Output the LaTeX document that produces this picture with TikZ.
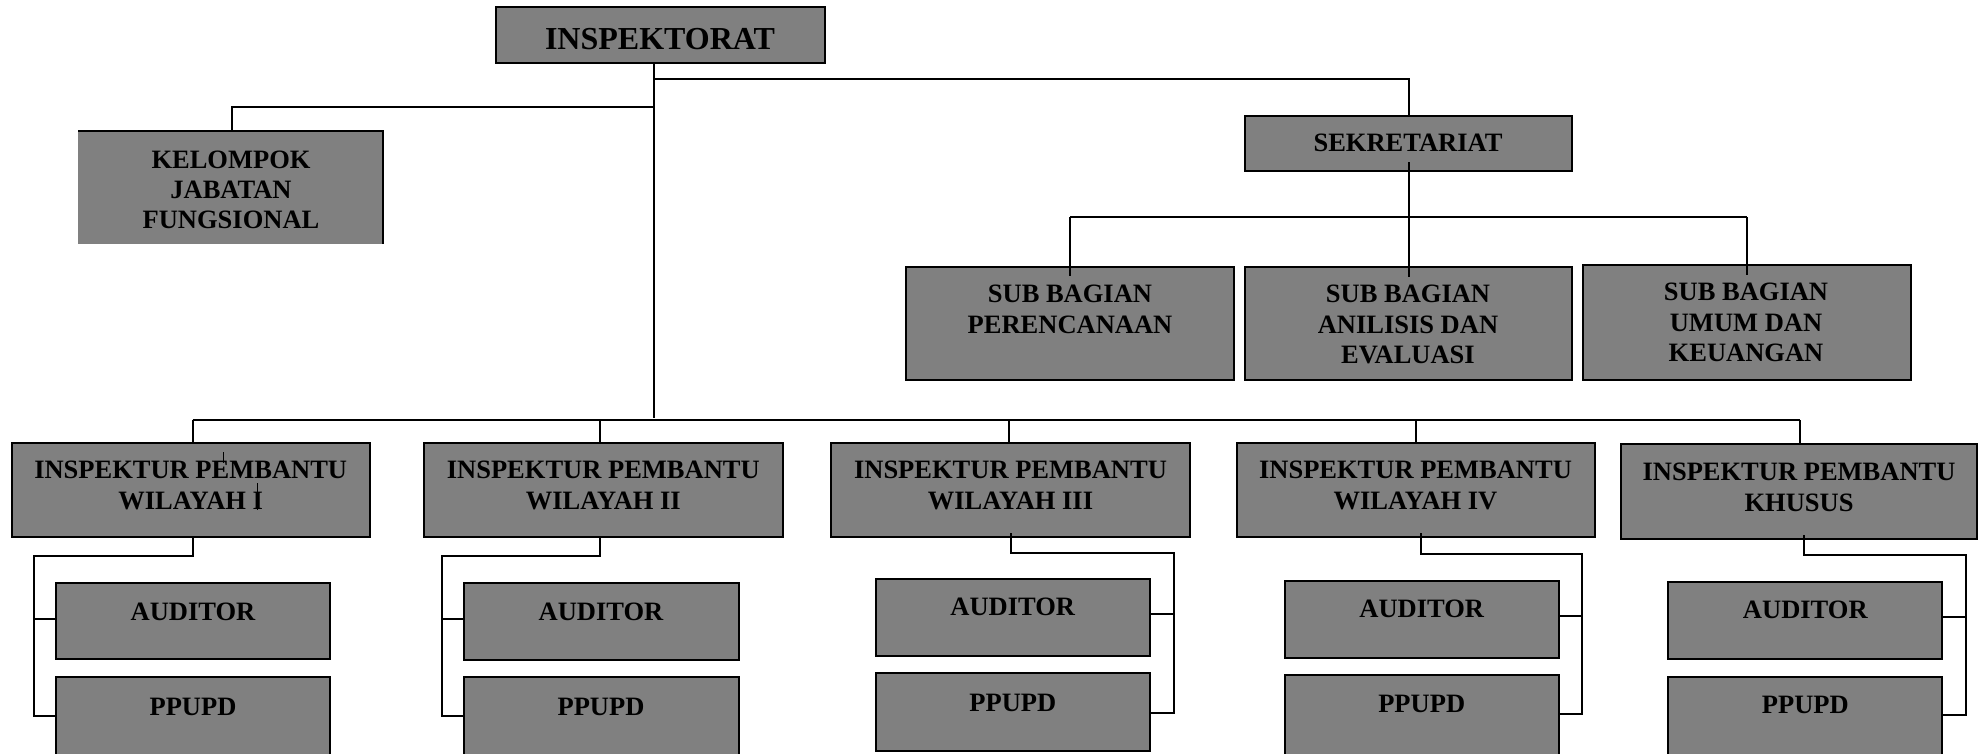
\documentclass[tikz,border=0pt]{standalone}
\usepackage{fontspec}
\setmainfont{Liberation Serif}
\definecolor{boxgray}{RGB}{128,128,128}
\tikzset{
  orgbox/.style={draw=black, line width=2pt, fill=boxgray, inner sep=0pt, outer sep=0pt},
  lbl/.style={font=\fontsize{26.5}{30.5}\selectfont\bfseries, align=center, inner sep=0pt, anchor=north},
  conn/.style={line width=2pt, draw=black},
  stray/.style={line width=1pt, draw=black},
}
\newcommand{\mkbox}[6][orgbox]{%
  \node[#1, minimum width={#4pt-#2pt}, minimum height={#5pt-#3pt}] (#6) at ({(#2+#4)/2},{(#3+#5)/2}) {};}
\begin{document}
\begin{tikzpicture}[x=1pt,y=-1pt]
\useasboundingbox (0,0) rectangle (1981,753);
\clip (0,0) rectangle (1981,753);
\fill[white] (0,0) rectangle (1981,753);

% ---- connectors (drawn first) ----
\coordinate (tr) at (654,418);
\coordinate (sj) at (654,79);
\coordinate (sk) at (1409,79);
\coordinate (kj) at (654,107);
\coordinate (kk) at (231.5,107);
\coordinate (sd) at (1408.5,162);
\coordinate (sdb) at (1408.5,277);
\coordinate (sbl) at (1070,217);
\coordinate (sbr) at (1747,217);
\coordinate (bl) at (192.6,420);
\coordinate (br) at (1800,420);

% ---- boxes ----
\mkbox{496}{7}{825}{63}{insp}
\mkbox[fill=boxgray,inner sep=0pt,outer sep=0pt]{78}{131}{383}{244}{kel}
\mkbox{1245}{116}{1572}{171}{sek}
\mkbox{905.5}{267}{1234}{380}{sp}
\mkbox{1245}{267}{1572}{380}{sa}
\mkbox{1582.5}{265}{1910.7}{380}{su}

\mkbox{11.5}{443}{370}{537}{i1}
\mkbox{424}{443}{782.5}{537}{i2}
\mkbox{831}{443}{1190}{537}{i3}
\mkbox{1236.5}{443}{1594.5}{537}{i4}
\mkbox{1621}{444}{1977}{539}{ik}

\mkbox{56}{583}{330}{659}{a1}
\mkbox{56}{677}{330}{790}{p1}
\mkbox{463.6}{583}{738.5}{660}{a2}
\mkbox{463.6}{677}{738.5}{790}{p2}
\mkbox{875.6}{579}{1150}{656}{a3}
\mkbox{875.6}{673}{1150}{750.5}{p3}
\mkbox{1284.7}{581}{1558.8}{658}{a4}
\mkbox{1284.7}{675}{1558.8}{790}{p4}
\mkbox{1668.3}{582}{1942.4}{659}{ak}
\mkbox{1668.3}{677}{1942.4}{790}{pk}

\draw[conn] (kel.north west) -- (kel.north east) -- (kel.south east);

% top level lines
\draw[conn] (insp.south -| tr) -- (tr);
\draw[conn] (sj) -- (sk) -- (sek.north -| sk);
\draw[conn] (kj) -- (kk) -- (kel.north -| kk);
\draw[conn] (sd) -- (sdb);
\draw[conn] (sbl) -- (sbr);
\draw[conn] (sbl) -- ([yshift=-9pt]sp.north -| sbl);
\draw[conn] (sbr) -- ([yshift=-10pt]su.north -| sbr);

% lower bus
\draw[conn] (bl) -- (br);
\foreach \n/\x in {i1/192.6, i2/599.5, i3/1009, i4/1416, ik/1800}
  \draw[conn] (\x,420) -- (\n.north -| {(\x,0)});

% sub connectors (left-side)
\coordinate (c1a) at (192.6,556); \coordinate (c1b) at (34,556); \coordinate (c1c) at (34,716);
\draw[conn] (i1.south -| c1a) -- (c1a) -- (c1b) -- (c1c) -- (p1.west |- c1c);
\draw[conn] (34,619) -- (a1.west |- {(0,619)});
\coordinate (c2a) at (599.5,556); \coordinate (c2b) at (442,556); \coordinate (c2c) at (442,716);
\draw[conn] (i2.south -| c2a) -- (c2a) -- (c2b) -- (c2c) -- (p2.west |- c2c);
\draw[conn] (442,619) -- (a2.west |- {(0,619)});

% sub connectors (right-side)
\coordinate (c3a) at (1011,552.7); \coordinate (c3b) at (1174,552.7); \coordinate (c3c) at (1174,712.7);
\draw[conn] (1011,533) -- (c3a) -- (c3b) -- (c3c) -- (p3.east |- c3c);
\draw[conn] (1174,614) -- (a3.east |- {(0,614)});
\coordinate (c4a) at (1420.5,554.3); \coordinate (c4b) at (1582,554.3); \coordinate (c4c) at (1582,714);
\draw[conn] (1420.5,533) -- (c4a) -- (c4b) -- (c4c) -- (p4.east |- c4c);
\draw[conn] (1582,616) -- (a4.east |- {(0,616)});
\coordinate (c5a) at (1804,555.3); \coordinate (c5b) at (1965.6,555.3); \coordinate (c5c) at (1965.6,715);
\draw[conn] (1804,535) -- (c5a) -- (c5b) -- (c5c) -- (pk.east |- c5c);
\draw[conn] (1965.6,617.3) -- (ak.east |- {(0,617.3)});

% ---- texts ----
\node[lbl, font=\fontsize{32}{36}\selectfont\bfseries] (insp-t) at (660,28.2) {INSPEKTORAT};
\node[lbl, font=\fontsize{26.5}{30}\selectfont\bfseries] (kel-t) at (231,151.2) {KELOMPOK\\JABATAN\\FUNGSIONAL};
\node[lbl] (sek-t) at (1408,134.2) {SEKRETARIAT};
\node[lbl] (sp-t) at (1070,285.2) {SUB BAGIAN\\PERENCANAAN};
\node[lbl] (sa-t) at (1408,285.2) {SUB BAGIAN\\ANILISIS DAN\\EVALUASI};
\node[lbl] (su-t) at (1746,283.2) {SUB BAGIAN\\UMUM DAN\\KEUANGAN};

\node[lbl] (i1-t) at (190.7,461.2) {INSPEKTUR PEMBANTU\\WILAYAH I};
\node[lbl] (i2-t) at (603.3,461.2) {INSPEKTUR PEMBANTU\\WILAYAH II};
\node[lbl] (i3-t) at (1010.5,461.2) {INSPEKTUR PEMBANTU\\WILAYAH III};
\node[lbl] (i4-t) at (1415.5,461.2) {INSPEKTUR PEMBANTU\\WILAYAH IV};
\node[lbl] (ik-t) at (1799,463.2) {INSPEKTUR PEMBANTU\\KHUSUS};

\node[lbl] (a1-t) at (193,603.2) {AUDITOR};
\node[lbl] (p1-t) at (193,698.2) {PPUPD};
\node[lbl] (a2-t) at (601,603.2) {AUDITOR};
\node[lbl] (p2-t) at (601,698.2) {PPUPD};
\node[lbl] (a3-t) at (1012.8,598.2) {AUDITOR};
\node[lbl] (p3-t) at (1012.8,694.2) {PPUPD};
\node[lbl] (a4-t) at (1421.7,600.2) {AUDITOR};
\node[lbl] (p4-t) at (1421.7,695.2) {PPUPD};
\node[lbl] (ak-t) at (1805.3,601.2) {AUDITOR};
\node[lbl] (pk-t) at (1805.3,696.2) {PPUPD};

% stray marks inside Wilayah I box
\draw[stray] (223,452) -- (223,463);
\draw[stray] (257,483) -- (257,510);
\end{tikzpicture}
\end{document}
